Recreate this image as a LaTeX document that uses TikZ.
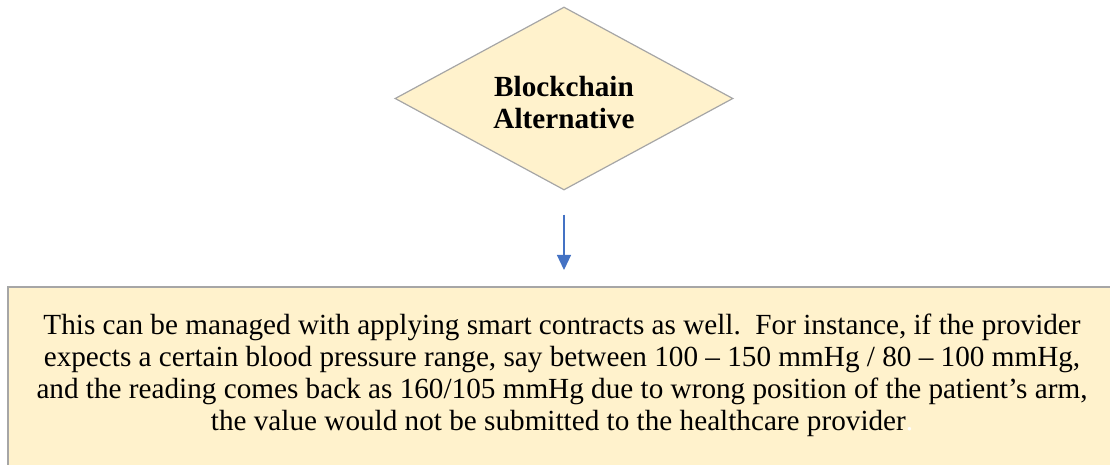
\documentclass[tikz,border=0pt]{standalone}
\usepackage{fontspec}
\setmainfont{Liberation Serif}
\usetikzlibrary{shapes.geometric,arrows.meta}
\definecolor{paleyellow}{HTML}{FFF2CC}
\definecolor{edgegray}{HTML}{A6A6A6}
\definecolor{arrowblue}{HTML}{4472C4}
\begin{document}
\begin{tikzpicture}[x=0.5pt,y=-0.5pt,
  decision/.style={diamond,draw=edgegray,fill=paleyellow,line width=0.6pt,
    minimum width=169pt,minimum height=91.5pt,inner sep=0pt},
  decisiontext/.style={align=center,font=\fontsize{14.6}{16}\selectfont\bfseries},
  notebox/.style={rectangle,draw=edgegray,fill=paleyellow,line width=0.8pt,
    anchor=north west,minimum width=560pt,minimum height=100pt,inner sep=0pt},
  bodytext/.style={align=center,font=\fontsize{14.6}{16}\selectfont},
  link/.style={draw=arrowblue,line width=0.6pt,-{Triangle[width=7pt,length=7.5pt]}}]
  \useasboundingbox (0,0) rectangle (1110,465);
  \begin{scope}
    \clip (0,0) rectangle (1110,465);
    \node[notebox] (box) at (7,286) {};
  \end{scope}
  \node[decision] (alt) at (564,98.5) {};
  \node[decisiontext] (altlabel) at ([yshift=-2pt]alt.center) {Blockchain\\Alternative};
  \node[bodytext] (txt) at (562,375) {This can be managed with applying smart contracts as well.\ \ For instance, if the provider\\
    expects a certain blood pressure range, say between 100 – 150 mmHg / 80 – 100 mmHg,\\
    and the reading comes back as 160/105 mmHg due to wrong position of the patient’s arm,\\
    the value would not be submitted to the healthcare provider\textcolor{white}{.}};
  \draw[link,shorten <=12pt,shorten >=8pt] (alt.south) -- (alt.south |- box.north);
\end{tikzpicture}
\end{document}
